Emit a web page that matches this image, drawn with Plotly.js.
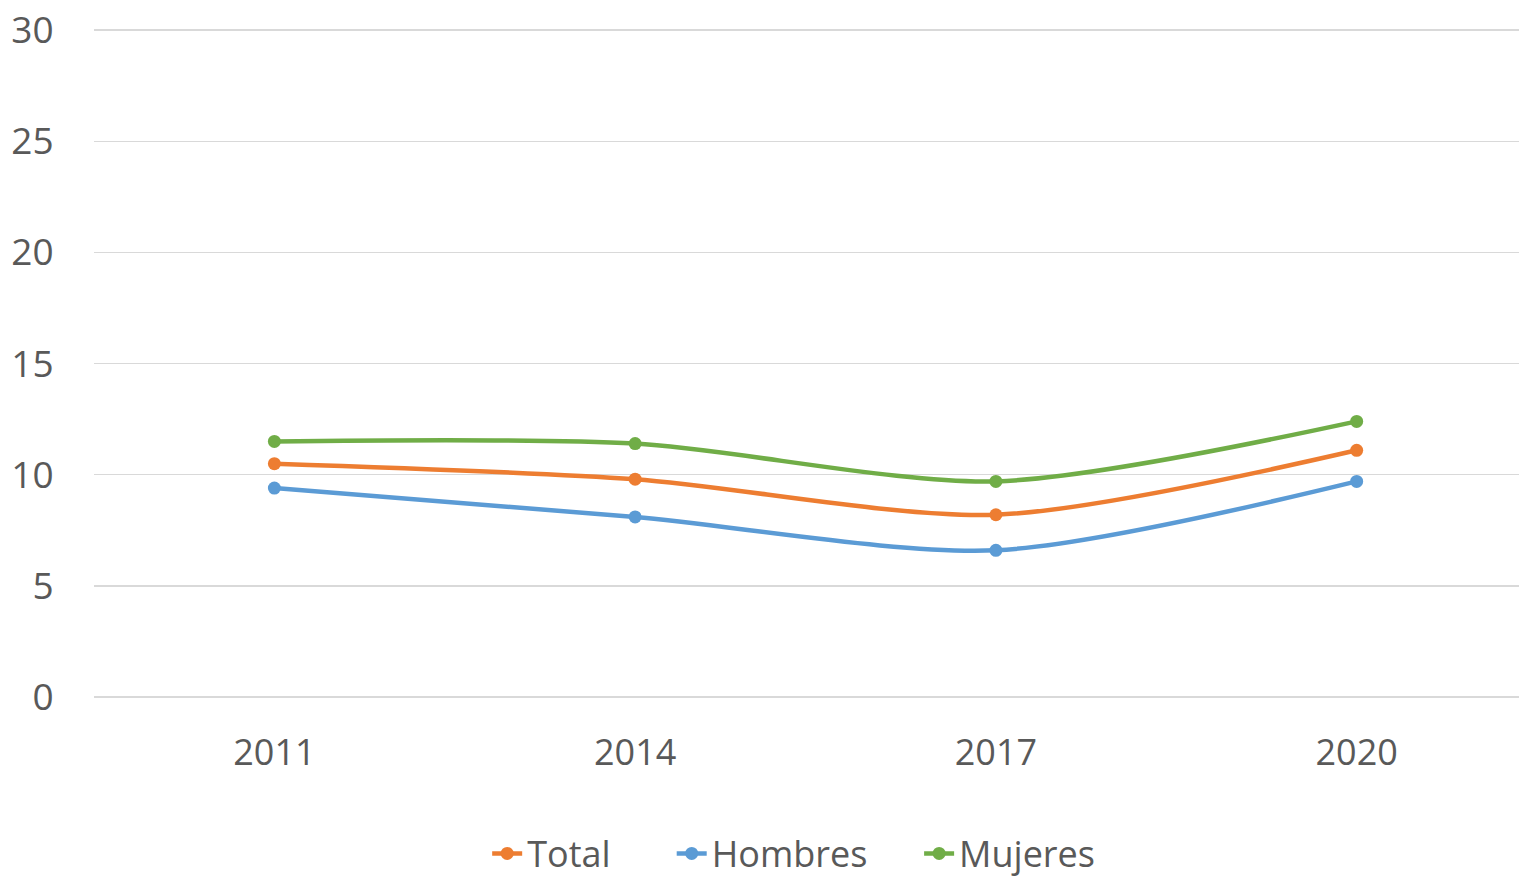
<!DOCTYPE html>
<html>
<head>
<meta charset="utf-8">
<script src="https://cdn.plot.ly/plotly-3.0.1.min.js"></script>
<style>html,body{margin:0;padding:0;background:#fff;}#chart{width:1519px;height:878px;}</style>
</head>
<body>
<div id="chart"></div>
<script>
const years = ["2011", "2014", "2017", "2020"];
const total = [10.5, 9.8, 8.2, 11.1];
const hombres = [9.4, 8.1, 6.6, 9.7];
const mujeres = [11.5, 11.4, 9.7, 12.4];
const yTicks = [0, 5, 10, 15, 20, 25, 30];
const seriesNames = ["Total", "Hombres", "Mujeres"];

function series(y, color, legendName) {
  return {
    type: 'scatter', mode: 'lines+markers', name: legendName, x: years, y: y,
    line: {color: color, width: 4.5, shape: 'spline', smoothing: 0.8},
    marker: {color: color, size: 13}
  };
}

const data = [
  series(total, '#ED7D31', seriesNames[0] + '\u00a0'.repeat(6)),
  series(hombres, '#5B9BD5', seriesNames[1] + '\u00a0'.repeat(5)),
  series(mujeres, '#70AD47', seriesNames[2])
];

const font = {family: '"Open Sans", "Liberation Sans", sans-serif', color: '#595959', size: 36};
const yfont = {family: '"Open Sans", "Liberation Sans", sans-serif', color: '#595959', size: 37};

const layout = {
  width: 1519, height: 878,
  margin: {l: 94, r: 0, t: 28, b: 181, autoexpand: false},
  paper_bgcolor: '#ffffff', plot_bgcolor: '#ffffff',
  font: font,
  showlegend: true,
  legend: {orientation: 'h', x: 0.491, xanchor: 'center', y: -0.234, yanchor: 'middle',
           font: font, tracegroupgap: 0},
  xaxis: {type: 'category', range: [-0.5, 3.45], showgrid: false, zeroline: false,
          showline: false, ticks: 'outside', ticklen: 24, tickcolor: 'rgba(0,0,0,0)',
          tickfont: font, fixedrange: true, automargin: false},
  yaxis: {range: [0, 30.1], tickvals: yTicks, showgrid: true, gridcolor: '#d9d9d9', gridwidth: 1.5,
          zeroline: true, zerolinecolor: '#d9d9d9', zerolinewidth: 1.5, showline: false,
          ticks: 'outside', ticklen: 32, tickcolor: 'rgba(0,0,0,0)', tickfont: yfont,
          fixedrange: true, automargin: false}
};

Plotly.newPlot('chart', data, layout, {displayModeBar: false, staticPlot: true});
</script>
</body>
</html>
